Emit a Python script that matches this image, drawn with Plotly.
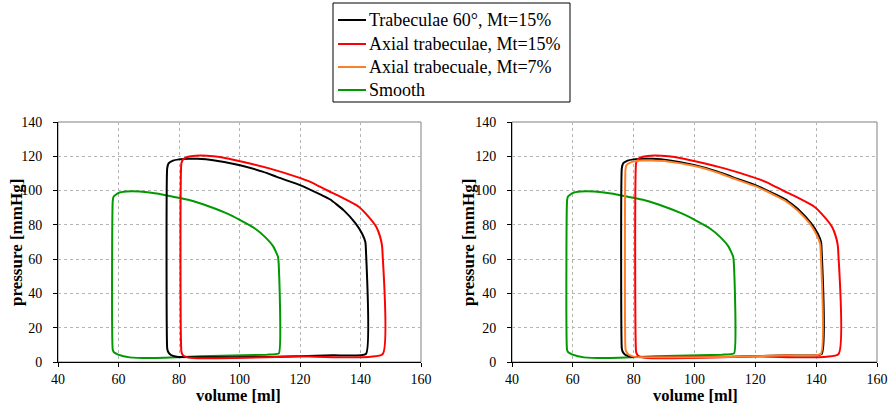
import plotly.graph_objects as go

# Pressure-volume loops (volume in ml, pressure in mmHg)
trab60_vol = [141.8, 141.8, 141.6, 140.5, 138.3, 134.4, 130.0, 127.2, 120.0, 112.3, 107.9, 100.2,
              91.3, 86.0, 83.0, 80.0, 78.0, 76.6, 76.1, 76.1, 76.4, 77.2, 79.2, 87.0, 109.0, 131.0, 141.8]
trab60_p = [4.7, 65.0, 70.0, 75.0, 81.0, 88.6, 94.8, 97.3, 103.2, 108.0, 110.9, 114.8,
            117.7, 118.5, 118.6, 118.2, 117.5, 116.0, 113.0, 8.0, 6.0, 4.2, 3.0, 2.8, 2.9, 3.9, 4.7]

axial15_vol = [147.3, 147.3, 147.1, 146.5, 145.2, 142.7, 139.4, 133.8, 128.9, 123.4, 118.9, 110.1,
               101.3, 93.5, 89.1, 85.5, 83.0, 81.4, 80.8, 80.8, 81.2, 82.3, 84.7, 98.0, 120.0, 147.3]
axial15_p = [4.5, 63.0, 68.0, 73.0, 78.9, 84.7, 90.6, 96.0, 100.2, 105.1, 108.0, 112.8,
             116.7, 119.6, 120.3, 120.3, 119.7, 118.3, 116.0, 6.0, 4.2, 3.0, 2.3, 2.3, 3.3, 4.5]

axial7_vol = [141.5, 141.5, 141.3, 140.2, 138.0, 134.1, 129.7, 126.9, 119.8, 112.1, 107.7, 100.0,
              91.2, 86.0, 83.0, 80.5, 78.8, 77.6, 77.3, 77.3, 77.6, 78.4, 80.3, 88.0, 110.0, 131.0, 141.5]
axial7_p = [4.7, 64.0, 69.0, 74.0, 80.5, 88.0, 94.2, 96.8, 102.7, 107.5, 110.4, 114.3,
            117.0, 117.5, 117.5, 117.1, 116.3, 114.8, 112.0, 8.0, 6.0, 4.2, 3.0, 2.8, 2.9, 3.9, 4.7]

smooth_vol = [113.0, 113.0, 112.7, 111.2, 108.4, 105.1, 100.2, 95.8, 90.2, 83.6, 78.1, 72.6,
              67.0, 62.6, 59.9, 58.4, 58.1, 58.1, 58.6, 59.9, 63.7, 70.4, 87.0, 109.0, 113.0]
smooth_p = [5.0, 55.6, 61.5, 67.3, 73.0, 77.9, 82.8, 86.7, 90.6, 94.4, 96.4, 98.3,
            99.4, 99.4, 98.5, 96.5, 94.0, 7.2, 5.5, 4.3, 2.7, 2.3, 3.3, 4.3, 5.0]

x_ticks = [40, 60, 80, 100, 120, 140, 160]
y_ticks = [0, 20, 40, 60, 80, 100, 120, 140]

legend_order = ["trab60", "axial15", "axial7", "smooth"]

SERIF = "Liberation Serif"
W, H = 893, 405

series = {
    "trab60": ("Trabeculae 60°, Mt=15%", "#000000", trab60_vol, trab60_p),
    "axial15": ("Axial trabeculae, Mt=15%", "#ff0000", axial15_vol, axial15_p),
    "axial7": ("Axial trabecuale, Mt=7%", "#ff7f27", axial7_vol, axial7_p),
    "smooth": ("Smooth", "#009900", smooth_vol, smooth_p),
}

fig = go.Figure()


def add_loop(key, xa, ya):
    name, color, xs, ys = series[key]
    fig.add_trace(go.Scatter(
        x=xs, y=ys, mode="lines", name=name, xaxis=xa, yaxis=ya,
        line=dict(color=color, width=2, shape="spline", smoothing=0.4),
        showlegend=False,
    ))


# left panel
for k in ("smooth", "trab60", "axial15"):
    add_loop(k, "x", "y")
# right panel
for k in ("smooth", "trab60", "axial15", "axial7"):
    add_loop(k, "x2", "y2")

y_dom = [1 - 362 / H, 1 - 122 / H]
x1_dom = [58 / W, 421 / W]
x2_dom = [512 / W, 877 / W]

axis_common = dict(
    showline=True, linecolor="black", linewidth=1,
    ticks="outside", ticklen=4, tickcolor="black",
    showgrid=True, gridcolor="#b4b4b4", griddash="dot", gridwidth=1,
    zeroline=False, automargin=False,
    tickfont=dict(family=SERIF, size=14, color="black"),
)

fig.update_layout(
    width=W, height=H,
    margin=dict(l=0, r=0, t=0, b=0, autoexpand=False),
    paper_bgcolor="white", plot_bgcolor="white",
    showlegend=False,
    xaxis=dict(domain=x1_dom, range=[40, 160], tickvals=x_ticks, anchor="y",
               ticklabelstandoff=0, **axis_common),
    yaxis=dict(domain=y_dom, range=[0, 140], tickvals=y_ticks, anchor="x",
               ticklabelstandoff=8, **axis_common),
    xaxis2=dict(domain=x2_dom, range=[40, 160], tickvals=x_ticks, anchor="y2",
                ticklabelstandoff=0, **axis_common),
    yaxis2=dict(domain=y_dom, range=[0, 140], tickvals=y_ticks, anchor="x2",
                ticklabelstandoff=8, **axis_common),
)

# light frame on the top and right of each plot area
for xr, yr in (("x domain", "y domain"), ("x2 domain", "y2 domain")):
    fig.add_shape(type="rect", xref=xr, yref=yr, x0=0, x1=1, y0=0, y1=1,
                  line=dict(color="#808080", width=1), layer="below")

# legend box with line keys
box_l, box_r, box_t, box_b = 333, 570, 3, 102
fig.add_shape(type="rect", xref="paper", yref="paper",
              x0=box_l / W, x1=box_r / W, y0=1 - box_b / H, y1=1 - box_t / H,
              line=dict(color="black", width=1), fillcolor="white", layer="above")
row_y = [20, 44, 67, 90]
for key, ry in zip(legend_order, row_y):
    name, color, _, _ = series[key]
    fig.add_shape(type="line", xref="paper", yref="paper",
                  x0=338 / W, x1=366 / W, y0=1 - ry / H, y1=1 - ry / H,
                  line=dict(color=color, width=2), layer="above")
    fig.add_annotation(text=name, xref="paper", yref="paper",
                       x=367 / W, y=1 - ry / H, xanchor="left", yanchor="middle",
                       showarrow=False, font=dict(family=SERIF, size=18, color="black"))

title_font = dict(family=SERIF, size=16.5, color="black")
for cx in (238, 695):
    fig.add_annotation(text="<b>volume [ml]</b>", xref="paper", yref="paper",
                       x=cx / W, y=1 - 395 / H, showarrow=False, font=title_font,
                       xanchor="center", yanchor="middle", borderpad=0)
for cx in (16, 468):
    fig.add_annotation(text="<b>pressure [mmHg]</b>", xref="paper", yref="paper",
                       x=cx / W, y=1 - 243 / H, showarrow=False,
                       font=dict(family=SERIF, size=17, color="black"),
                       textangle=-90, xanchor="center", yanchor="middle")

fig.write_html("out.html")
